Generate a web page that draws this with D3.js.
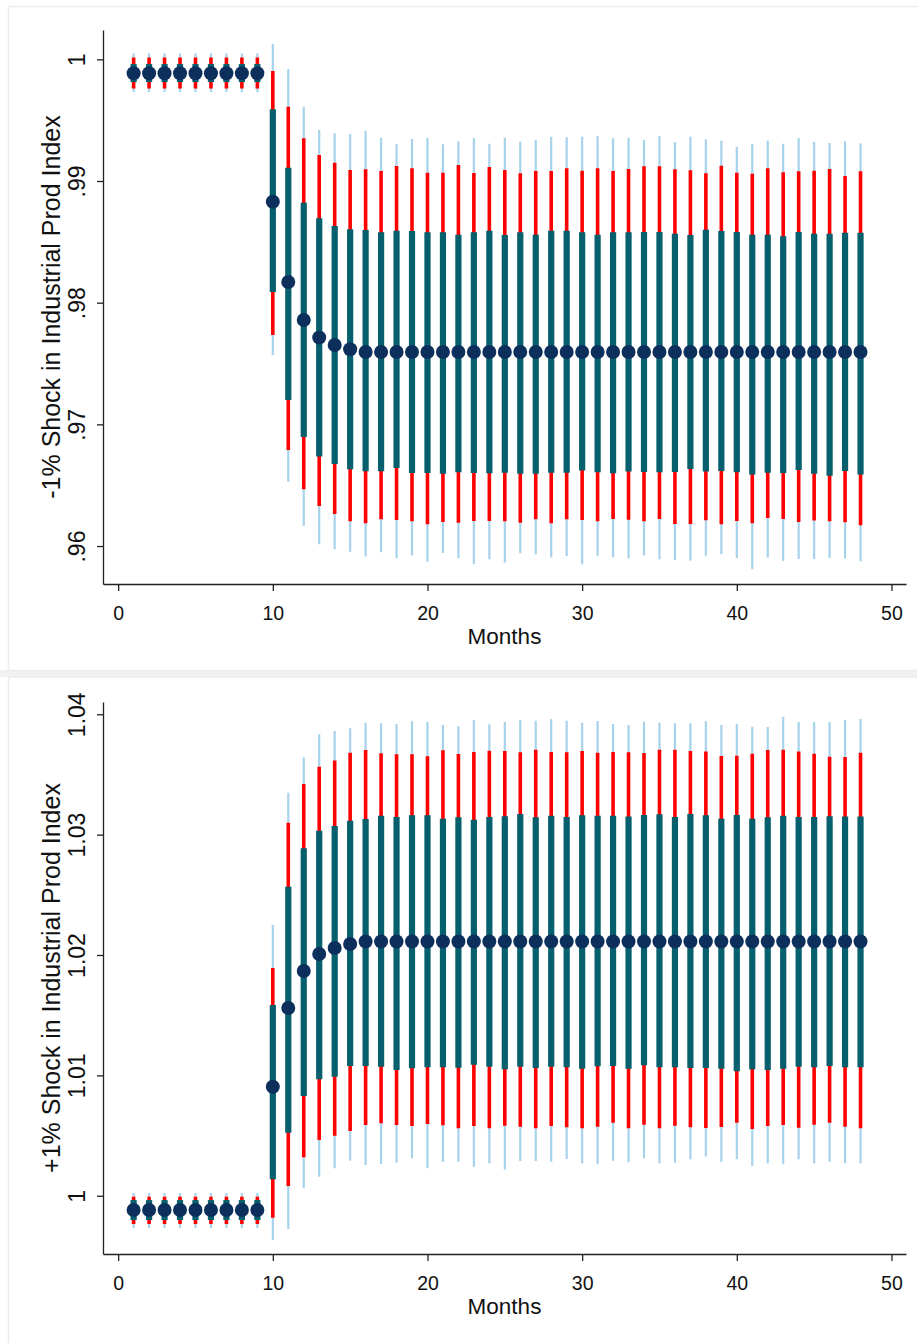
<!DOCTYPE html>
<html>
  <head>
    <meta charset="utf-8">
    <script src="https://d3js.org/d3.v7.min.js"></script>
    <style>
      body { margin: 0; background: #fff; }
      text { font-family: "Liberation Sans", Arial, sans-serif; fill: #111; }
    </style>
  </head>
  <body>
    <script type="text/javascript">
      // months 1..48
      var months = d3.range(1, 49);

      // -1% shock: point estimate and three bands (inner = teal, middle = red, outer = light blue)
      var negEst = [0.99885,0.99885,0.99885,0.99885,0.99885,0.99885,0.99885,0.99885,0.99885,
        0.98830,0.98170,0.97858,0.97714,0.97652,0.97617,0.97595,0.97595,0.97595,0.97595,0.97595,
        0.97595,0.97595,0.97595,0.97595,0.97595,0.97595,0.97595,0.97595,0.97595,0.97595,0.97595,
        0.97595,0.97595,0.97595,0.97595,0.97595,0.97595,0.97595,0.97595,0.97595,0.97595,0.97595,
        0.97595,0.97595,0.97595,0.97595,0.97595,0.97595];
      var negHi1 = [0.99961,0.99961,0.99961,0.99961,0.99961,0.99961,0.99961,0.99961,0.99961,
        0.99589,0.99109,0.98822,0.98694,0.98630,0.98603,0.98597,0.98579,0.98592,0.98589,0.98579,
        0.98579,0.98559,0.98579,0.98592,0.98556,0.98579,0.98559,0.98592,0.98592,0.98579,0.98559,
        0.98579,0.98579,0.98581,0.98581,0.98567,0.98556,0.98600,0.98589,0.98581,0.98559,0.98559,
        0.98546,0.98581,0.98567,0.98567,0.98575,0.98575];
      var negLo1 = [0.99813,0.99813,0.99813,0.99813,0.99813,0.99813,0.99813,0.99813,0.99813,
        0.98088,0.97200,0.96896,0.96735,0.96675,0.96631,0.96615,0.96615,0.96642,0.96601,0.96601,
        0.96595,0.96606,0.96601,0.96598,0.96603,0.96595,0.96595,0.96603,0.96603,0.96620,0.96606,
        0.96598,0.96612,0.96609,0.96606,0.96609,0.96634,0.96612,0.96617,0.96606,0.96587,0.96603,
        0.96601,0.96625,0.96595,0.96578,0.96617,0.96587];
      var negHi2 = [1.00015,1.00015,1.00015,1.00015,1.00015,1.00015,1.00015,1.00015,1.00015,
        0.99904,0.99611,0.99351,0.99214,0.99150,0.99090,0.99096,0.99082,0.99123,0.99104,0.99068,
        0.99068,0.99132,0.99066,0.99115,0.99090,0.99063,0.99082,0.99082,0.99104,0.99085,0.99104,
        0.99082,0.99099,0.99121,0.99121,0.99096,0.99088,0.99063,0.99126,0.99068,0.99060,0.99104,
        0.99072,0.99080,0.99085,0.99099,0.99041,0.99080];
      var negLo2 = [0.99760,0.99760,0.99760,0.99760,0.99760,0.99760,0.99760,0.99760,0.99760,
        0.97735,0.96790,0.96467,0.96330,0.96264,0.96204,0.96187,0.96220,0.96215,0.96204,0.96179,
        0.96198,0.96192,0.96206,0.96206,0.96204,0.96192,0.96220,0.96187,0.96220,0.96215,0.96204,
        0.96222,0.96217,0.96204,0.96222,0.96182,0.96182,0.96212,0.96179,0.96206,0.96187,0.96231,
        0.96222,0.96198,0.96209,0.96204,0.96196,0.96171];
      var negHi3 = [1.00049,1.00049,1.00049,1.00049,1.00049,1.00049,1.00049,1.00049,1.00049,
        1.00126,0.99920,0.99611,0.99419,0.99392,0.99386,0.99413,0.99356,0.99302,0.99345,0.99353,
        0.99302,0.99326,0.99351,0.99307,0.99356,0.99323,0.99337,0.99364,0.99359,0.99364,0.99367,
        0.99351,0.99356,0.99337,0.99370,0.99320,0.99364,0.99343,0.99331,0.99282,0.99307,0.99331,
        0.99307,0.99351,0.99323,0.99312,0.99326,0.99310];
      var negLo3 = [0.99731,0.99731,0.99731,0.99731,0.99731,0.99731,0.99731,0.99731,0.99731,
        0.97570,0.96529,0.96165,0.96015,0.95974,0.95954,0.95913,0.95949,0.95900,0.95924,0.95872,
        0.95943,0.95900,0.95853,0.95892,0.95864,0.95941,0.95933,0.95905,0.95919,0.95850,0.95921,
        0.95908,0.95897,0.95924,0.95892,0.95886,0.95880,0.95921,0.95935,0.95902,0.95809,0.95905,
        0.95878,0.95894,0.95894,0.95902,0.95897,0.95875];

      // +1% shock
      var posEst = [0.99881,0.99881,0.99881,0.99881,0.99881,0.99881,0.99881,0.99881,0.99881,
        1.00906,1.01560,1.01867,1.02008,1.02058,1.02092,1.02112,1.02112,1.02112,1.02112,1.02112,
        1.02112,1.02112,1.02112,1.02112,1.02112,1.02112,1.02112,1.02112,1.02112,1.02112,1.02112,
        1.02112,1.02112,1.02112,1.02112,1.02112,1.02112,1.02112,1.02112,1.02112,1.02112,1.02112,
        1.02112,1.02112,1.02112,1.02112,1.02112,1.02112];
      var posHi1 = [0.99964,0.99964,0.99964,0.99964,0.99964,0.99964,0.99964,0.99964,0.99964,
        1.01585,1.02568,1.02887,1.03033,1.03072,1.03116,1.03130,1.03158,1.03147,1.03161,1.03161,
        1.03133,1.03144,1.03124,1.03147,1.03153,1.03172,1.03144,1.03158,1.03147,1.03161,1.03158,
        1.03158,1.03150,1.03164,1.03169,1.03147,1.03172,1.03161,1.03133,1.03164,1.03133,1.03144,
        1.03158,1.03147,1.03147,1.03153,1.03150,1.03150];
      var posLo1 = [0.99798,0.99798,0.99798,0.99798,0.99798,0.99798,0.99798,0.99798,0.99798,
        1.00136,1.00524,1.00829,1.00967,1.00989,1.01078,1.01078,1.01072,1.01045,1.01059,1.01067,
        1.01067,1.01064,1.01089,1.01072,1.01050,1.01072,1.01061,1.01072,1.01067,1.01056,1.01075,
        1.01078,1.01056,1.01084,1.01067,1.01067,1.01061,1.01061,1.01056,1.01034,1.01050,1.01045,
        1.01056,1.01072,1.01067,1.01078,1.01067,1.01067];
      var posHi2 = [0.99992,0.99992,0.99992,0.99992,0.99992,0.99992,0.99992,0.99992,0.99992,
        1.01892,1.03099,1.03421,1.03565,1.03615,1.03681,1.03703,1.03676,1.03668,1.03668,1.03651,
        1.03701,1.03670,1.03687,1.03698,1.03695,1.03684,1.03706,1.03687,1.03684,1.03695,1.03681,
        1.03687,1.03684,1.03678,1.03706,1.03706,1.03695,1.03690,1.03654,1.03656,1.03673,1.03703,
        1.03706,1.03690,1.03673,1.03648,1.03645,1.03681];
      var posLo2 = [0.99765,0.99765,0.99765,0.99765,0.99765,0.99765,0.99765,0.99765,0.99765,
        0.99817,1.00081,1.00319,1.00463,1.00499,1.00538,1.00588,1.00602,1.00588,1.00579,1.00596,
        1.00585,1.00560,1.00579,1.00560,1.00582,1.00574,1.00560,1.00579,1.00568,1.00560,1.00574,
        1.00607,1.00560,1.00590,1.00560,1.00582,1.00568,1.00562,1.00571,1.00607,1.00554,1.00579,
        1.00588,1.00565,1.00590,1.00607,1.00574,1.00560];
      var posHi3 = [1.00022,1.00022,1.00022,1.00022,1.00022,1.00022,1.00022,1.00022,1.00022,
        1.02250,1.03349,1.03643,1.03834,1.03861,1.03884,1.03930,1.03925,1.03920,1.03942,1.03936,
        1.03911,1.03900,1.03953,1.03917,1.03936,1.03953,1.03947,1.03961,1.03947,1.03930,1.03944,
        1.03920,1.03911,1.03939,1.03930,1.03925,1.03925,1.03942,1.03911,1.03920,1.03897,1.03895,
        1.03980,1.03936,1.03936,1.03936,1.03953,1.03961];
      var posLo3 = [0.99732,0.99732,0.99732,0.99732,0.99732,0.99732,0.99732,0.99732,0.99732,
        0.99632,0.99723,1.00062,1.00158,1.00228,1.00291,1.00255,1.00263,1.00274,1.00311,1.00228,
        1.00280,1.00283,1.00241,1.00269,1.00219,1.00289,1.00289,1.00283,1.00306,1.00269,1.00261,
        1.00291,1.00278,1.00311,1.00269,1.00274,1.00303,1.00325,1.00283,1.00303,1.00247,1.00269,
        1.00261,1.00303,1.00269,1.00283,1.00269,1.00269];

      var xTicks = [0, 10, 20, 30, 40, 50];
      var negTicks = [0.96, 0.97, 0.98, 0.99, 1];
      var posTicks = [1, 1.01, 1.02, 1.03, 1.04];

      var W = 917, H = 1343;
      var svg = d3.select("body").append("svg")
          .attr("width", W)
          .attr("height", H);

      svg.append("rect").attr("width", W).attr("height", H).attr("fill", "#fff");
      // light grey panel frames like the Stata graph window
      svg.append("rect").attr("x", 0).attr("y", 670).attr("width", W).attr("height", 7).attr("fill", "#f1f1f1");
      svg.append("rect").attr("x", 8.5).attr("y", 6.5).attr("width", W).attr("height", 664)
          .attr("fill", "none").attr("stroke", "#ececec").attr("stroke-width", 1.5);
      svg.append("rect").attr("x", 8.5).attr("y", 677).attr("width", W).attr("height", H)
          .attr("fill", "none").attr("stroke", "#ececec").attr("stroke-width", 1.5);

      function draw(cfg) {
        var x = d3.scaleLinear().domain([-0.98, 50.94]).range([103, 906]);
        var y = d3.scaleLinear().domain(cfg.domain).range([cfg.bottom, cfg.top]);
        var g = svg.append("g");

        var rows = months.map(function (m, i) {
          return { m: m, est: cfg.est[i], lo1: cfg.lo1[i], hi1: cfg.hi1[i],
                   lo2: cfg.lo2[i], hi2: cfg.hi2[i], lo3: cfg.lo3[i], hi3: cfg.hi3[i] };
        });

        // outer band first, then middle, then inner
        var bands = [
          { lo: "lo3", hi: "hi3", color: "#a7d2ec", w: 2.2 },
          { lo: "lo2", hi: "hi2", color: "#ff0000", w: 3.6 },
          { lo: "lo1", hi: "hi1", color: "#055f6d", w: 6.2 }
        ];
        bands.forEach(function (b) {
          g.append("g").selectAll("line")
              .data(rows)
              .enter()
              .append("line")
              .attr("x1", function (d) { return x(d.m); })
              .attr("x2", function (d) { return x(d.m); })
              .attr("y1", function (d) { return y(d[b.lo]); })
              .attr("y2", function (d) { return y(d[b.hi]); })
              .attr("stroke", b.color)
              .attr("stroke-width", b.w);
        });

        g.append("g").selectAll("circle")
            .data(rows)
            .enter()
            .append("circle")
            .attr("cx", function (d) { return x(d.m); })
            .attr("cy", function (d) { return y(d.est); })
            .attr("r", 7)
            .attr("fill", "#0c2f5c");

        // axes
        var xAxis = g.append("g")
            .attr("transform", "translate(0," + cfg.bottom + ")")
            .call(d3.axisBottom(x).tickValues(xTicks).tickSize(7).tickSizeOuter(0));
        xAxis.selectAll("text")
            .attr("y", 36).attr("dy", null)
            .style("font-size", "19.5px");

        var yAxis = g.append("g")
            .attr("transform", "translate(103,0)")
            .call(d3.axisLeft(y).tickValues(cfg.ticks).tickSize(6).tickSizeOuter(0).tickFormat(cfg.fmt));
        yAxis.selectAll("text")
            .attr("x", null).attr("dy", null)
            .attr("transform", "translate(-18,0) rotate(-90)")
            .style("text-anchor", "middle")
            .style("font-size", "23px");

        [xAxis, yAxis].forEach(function (a) {
          a.select(".domain").attr("stroke", "#222").attr("stroke-width", 1.3);
          a.selectAll(".tick line").attr("stroke", "#222").attr("stroke-width", 1.3);
          a.selectAll("text").attr("fill", "#111");
        });

        g.append("text")
            .attr("x", 504.5)
            .attr("y", cfg.bottom + 60)
            .style("text-anchor", "middle")
            .style("font-size", "22.5px")
            .text("Months");

        g.append("text")
            .attr("transform", "translate(60," + ((cfg.top + cfg.bottom) / 2) + ") rotate(-90)")
            .style("text-anchor", "middle")
            .style("font-size", "25px")
            .text(cfg.title);
      }

      draw({
        est: negEst, lo1: negLo1, hi1: negHi1, lo2: negLo2, hi2: negHi2, lo3: negLo3, hi3: negHi3,
        domain: [0.95688, 1.00241], top: 30, bottom: 584, ticks: negTicks,
        fmt: function (d) { return d === 1 ? "1" : d3.format(".2f")(d).replace(/^0/, ""); },
        title: "-1% Shock in Industrial Prod Index"
      });

      draw({
        est: posEst, lo1: posLo1, hi1: posHi1, lo2: posLo2, hi2: posHi2, lo3: posLo3, hi3: posHi3,
        domain: [0.99516, 1.04102], top: 702, bottom: 1254, ticks: posTicks,
        fmt: function (d) { return d === 1 ? "1" : d.toFixed(2); },
        title: "+1% Shock in Industrial Prod Index"
      });
    </script>
  </body>
</html>
